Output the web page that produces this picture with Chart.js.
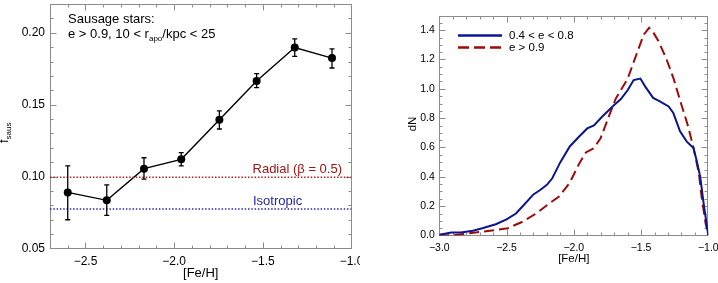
<!DOCTYPE html>
<html>
<head>
<meta charset="utf-8">
<script src="https://cdn.jsdelivr.net/npm/chart.js@4"></script>
<style>
  body { margin: 0; background: #fff; }
  #left { position: absolute; left: 0; top: 0; }
  #right { position: absolute; left: 360px; top: 0; }
</style>
</head>
<body>
<canvas id="left" width="360" height="283"></canvas>
<canvas id="right" width="358" height="283"></canvas>
<script>
// left panel: sausage fraction vs [Fe/H]
const sausFeH = [-2.60, -2.38, -2.17, -1.96, -1.745, -1.535, -1.32, -1.11];
const sausFrac = [0.089, 0.0835, 0.1055, 0.112, 0.1395, 0.1665, 0.1897, 0.1824];
const sausErrLo = [0.070, 0.073, 0.0983, 0.1074, 0.1331, 0.1618, 0.1836, 0.1755];
const sausErrHi = [0.1074, 0.0942, 0.1131, 0.1166, 0.1457, 0.1716, 0.1957, 0.1888];
const radialLevel = 0.0995;
const isoLevel = 0.0775;
const leftXTicks = [-2.5, -2.0, -1.5, -1.0];
const leftYTicks = [0.05, 0.10, 0.15, 0.20];

// right panel: dN vs [Fe/H]
const lowEFeH = [-3.0, -2.91, -2.84, -2.75, -2.68, -2.58, -2.50, -2.43, -2.37, -2.30, -2.25, -2.20, -2.16, -2.10,
  -2.03, -1.96, -1.90, -1.85, -1.79, -1.70, -1.65, -1.60, -1.555, -1.505, -1.47, -1.41, -1.36, -1.295, -1.26,
  -1.21, -1.16, -1.11, -1.085, -1.06, -1.035, -1.0];
const lowEdN = [0.005, 0.02, 0.02, 0.033, 0.05, 0.077, 0.11, 0.15, 0.21, 0.28, 0.31, 0.345, 0.39, 0.50,
  0.607, 0.675, 0.73, 0.75, 0.81, 0.89, 0.93, 0.99, 1.06, 1.07, 1.017, 0.938, 0.915, 0.88, 0.835,
  0.71, 0.64, 0.596, 0.505, 0.40, 0.22, 0.0];
const highEFeH = [-3.0, -2.88, -2.73, -2.59, -2.49, -2.38, -2.28, -2.18, -2.11, -2.03, -1.96, -1.91, -1.85, -1.80,
  -1.74, -1.69, -1.60, -1.54, -1.48, -1.44, -1.41, -1.37, -1.31, -1.26, -1.20, -1.15, -1.11, -1.07, -1.05, -1.02, -1.0];
const highEdN = [0.0, 0.003, 0.02, 0.037, 0.05, 0.094, 0.15, 0.22, 0.265, 0.36, 0.49, 0.566, 0.596, 0.665,
  0.81, 0.93, 1.068, 1.22, 1.37, 1.416, 1.386, 1.325, 1.20, 1.075, 0.892, 0.744, 0.596, 0.425, 0.265, 0.083, 0.0];
const rightXTicks = [-3.0, -2.5, -2.0, -1.5, -1.0];
const rightYTicks = [0.0, 0.2, 0.4, 0.6, 0.8, 1.0, 1.2, 1.4];
const rightLegend = ['0.4 < e < 0.8', 'e > 0.9'];

const FONT = "'Liberation Sans', Arial, Helvetica, sans-serif";
Chart.defaults.font.family = FONT;
Chart.defaults.color = '#000';

const BLUE = '#0a1690';
const DARKRED = '#a00a0a';

const minus = s => s.replace('-', '\u2212');
const pts = (xs, ys) => xs.map((x, i) => ({ x, y: ys[i] }));

function axis(min, max, tickVals, digits, fontSize, pad, size) {
  return {
    type: 'linear', min, max,
    grid: { display: false, drawTicks: false },
    border: { display: false },
    ticks: {
      font: { size: fontSize }, padding: pad, color: '#000', autoSkip: false, maxRotation: 0,
      callback: v => minus(Number(v).toFixed(digits))
    },
    afterBuildTicks: s => { s.ticks = tickVals.map(v => ({ value: v })); },
    afterFit: s => {
      if (s.isHorizontal()) s.height = size; else s.width = size;
      s.paddingLeft = s.paddingRight = s.paddingTop = s.paddingBottom = 0;
    }
  };
}

// IDL-like box with inward major/minor ticks on all four sides
function boxTicks(xMinor, yMinor) {
  return {
    id: 'boxTicks',
    beforeDatasetsDraw(chart) {
      const { ctx, chartArea: a, scales: { x, y } } = chart;
      const L = Math.round(a.left) + 0.5, R = Math.round(a.right) - 0.5;
      const T = Math.round(a.top) + 0.5, B = Math.round(a.bottom) - 0.5;
      ctx.save();
      ctx.strokeStyle = '#8c8c8c';
      ctx.lineWidth = 1;
      ctx.strokeRect(L, T, R - L, B - T);
      const major = (s, v) => s.ticks.some(t => Math.abs(t.value - v) < 1e-6);
      ctx.beginPath();
      let n = Math.round((x.max - x.min) / xMinor);
      for (let i = 1; i < n; i++) {
        const v = x.min + i * xMinor;
        const p = Math.round(x.getPixelForValue(v)) + 0.5;
        const len = major(x, v) ? 6 : 3;
        ctx.moveTo(p, B); ctx.lineTo(p, B - len);
        ctx.moveTo(p, T); ctx.lineTo(p, T + len);
      }
      n = Math.round((y.max - y.min) / yMinor);
      for (let i = 1; i < n; i++) {
        const v = y.min + i * yMinor;
        const p = Math.round(y.getPixelForValue(v)) + 0.5;
        const len = major(y, v) ? 6 : 3;
        ctx.moveTo(L, p); ctx.lineTo(L + len, p);
        ctx.moveTo(R, p); ctx.lineTo(R - len, p);
      }
      ctx.stroke();
      ctx.restore();
    }
  };
}

const errorBars = {
  id: 'errorBars',
  afterDatasetsDraw(chart) {
    const { ctx, scales: { x, y } } = chart;
    ctx.save();
    ctx.strokeStyle = '#000';
    ctx.lineWidth = 1.3;
    ctx.beginPath();
    sausFeH.forEach((f, i) => {
      const px = x.getPixelForValue(f);
      const lo = y.getPixelForValue(sausErrLo[i]);
      const hi = y.getPixelForValue(sausErrHi[i]);
      ctx.moveTo(px, lo); ctx.lineTo(px, hi);
      ctx.moveTo(px - 2.5, lo); ctx.lineTo(px + 2.5, lo);
      ctx.moveTo(px - 2.5, hi); ctx.lineTo(px + 2.5, hi);
    });
    ctx.stroke();
    ctx.restore();
  }
};

function drawRuns(ctx, x0, y0, runs) {
  let cx = x0;
  runs.forEach(([t, size, dy]) => {
    ctx.font = size + 'px ' + FONT;
    ctx.fillText(t, cx, y0 + dy);
    cx += ctx.measureText(t).width;
  });
}

const leftText = {
  id: 'leftText',
  afterDraw(chart) {
    const { ctx, chartArea: a, scales: { y } } = chart;
    ctx.save();
    ctx.textBaseline = 'alphabetic';
    ctx.fillStyle = '#000';
    ctx.font = '13px ' + FONT;
    ctx.fillText('Sausage stars:', 68, 23);
    drawRuns(ctx, 68, 38, [['e > 0.9, 10 < r', 13, 0], ['apo', 8, 3], ['/kpc < 25', 13, 0]]);

    ctx.font = '13px ' + FONT;
    ctx.fillStyle = '#a01414';
    ctx.textAlign = 'right';
    ctx.fillText('Radial (\u03b2 = 0.5)', 342, y.getPixelForValue(radialLevel) - 4);
    ctx.fillStyle = '#2424a8';
    ctx.textAlign = 'left';
    ctx.fillText('Isotropic', 253, y.getPixelForValue(isoLevel) - 4);

    ctx.fillStyle = '#000';
    ctx.textAlign = 'center';
    ctx.fillText('[Fe/H]', (a.left + a.right) / 2, 277);

    ctx.translate(8, 143);
    ctx.rotate(-Math.PI / 2);
    ctx.textAlign = 'left';
    drawRuns(ctx, 0, 0, [['f', 13, 0], ['saus', 8, 3]]);
    ctx.restore();
  }
};

const rightText = {
  id: 'rightText',
  afterDraw(chart) {
    const { ctx, chartArea: a } = chart;
    ctx.save();
    ctx.lineWidth = 2.5;
    ctx.strokeStyle = BLUE;
    ctx.beginPath(); ctx.moveTo(98, 35.5); ctx.lineTo(142, 35.5); ctx.stroke();
    ctx.strokeStyle = DARKRED;
    ctx.setLineDash([11, 5]);
    ctx.beginPath(); ctx.moveTo(98, 47.5); ctx.lineTo(142, 47.5); ctx.stroke();
    ctx.setLineDash([]);
    ctx.fillStyle = '#000';
    ctx.font = '11.5px ' + FONT;
    ctx.textBaseline = 'middle';
    ctx.fillText(rightLegend[0], 149, 35.5);
    ctx.fillText(rightLegend[1], 149, 47.5);

    ctx.textBaseline = 'alphabetic';
    ctx.textAlign = 'center';
    ctx.fillText('[Fe/H]', (a.left + a.right) / 2, 262);
    ctx.translate(56, 124);
    ctx.rotate(-Math.PI / 2);
    ctx.fillText('dN', 0, 0);
    ctx.restore();
  }
};

new Chart(document.getElementById('left'), {
  type: 'scatter',
  data: {
    datasets: [
      { data: pts([-2.7, -1.0], [radialLevel, radialLevel]), showLine: true, borderColor: '#b41e1e',
        borderWidth: 1.5, borderDash: [1.5, 1.8], pointRadius: 0 },
      { data: pts([-2.7, -1.0], [isoLevel, isoLevel]), showLine: true, borderColor: '#2828b4',
        borderWidth: 1.5, borderDash: [1.5, 1.8], pointRadius: 0 },
      { data: pts(sausFeH, sausFrac), showLine: true, borderColor: '#000', borderWidth: 1.4,
        pointRadius: 4, pointBackgroundColor: '#000', pointBorderColor: '#000', pointBorderWidth: 0 }
    ]
  },
  options: {
    responsive: false, animation: false, events: [],
    layout: { padding: { left: 0, right: 8.5, top: 1, bottom: 0 } },
    plugins: { legend: { display: false }, tooltip: { enabled: false } },
    scales: {
      x: axis(-2.7, -1.0, leftXTicks, 1, 12, 5.5, 34.5),
      y: axis(0.05, 0.22, leftYTicks, 2, 12, 5, 50)
    }
  },
  plugins: [boxTicks(0.1, 0.01), errorBars, leftText]
});

new Chart(document.getElementById('right'), {
  type: 'scatter',
  data: {
    datasets: [
      { data: pts(lowEFeH, lowEdN), showLine: true, borderColor: BLUE, borderWidth: 2, pointRadius: 0 },
      { data: pts(highEFeH, highEdN), showLine: true, borderColor: DARKRED, borderWidth: 2,
        borderDash: [10, 5], pointRadius: 0 }
    ]
  },
  options: {
    responsive: false, animation: false, events: [],
    layout: { padding: { left: 0, right: 9.7, top: 15.5, bottom: 0 } },
    plugins: { legend: { display: false }, tooltip: { enabled: false } },
    scales: {
      x: axis(-3.0, -1.0, rightXTicks, 1, 10.5, 6.5, 47.5),
      y: axis(0.0, 1.5, rightYTicks, 1, 10.5, 4.5, 79.3)
    }
  },
  plugins: [boxTicks(0.1, 0.05), rightText]
});
</script>
</body>
</html>
